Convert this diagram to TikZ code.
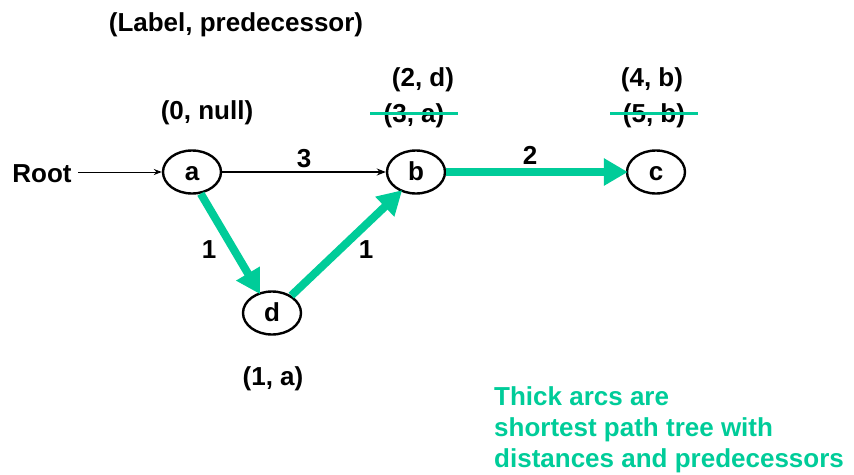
\documentclass[tikz,border=0pt]{standalone}
\usepackage{fontspec}
\setmainfont{Liberation Sans}
\usetikzlibrary{shapes.geometric,arrows.meta}
\definecolor{treegreen}{RGB}{0,204,153}
\begin{document}
\begin{tikzpicture}[x=1pt,y=-1pt,
  font=\fontsize{26}{30}\selectfont\bfseries,
  vertex/.style={ellipse,draw,line width=2.4pt,minimum width=58pt,minimum height=43pt,
    inner sep=0pt,text height=18pt,text depth=1pt},
  plain/.style={line width=1.4pt,-{Stealth[length=9pt,width=7pt]}},
  treearc/.style={treegreen,line width=8pt,-{Triangle[length=24pt,width=26pt]},shorten >=-2pt},
  strike/.style={treegreen,line width=3pt},
  lbl/.style={inner sep=0pt,anchor=center}]
\useasboundingbox (0,0) rectangle (854,474);

\node[lbl] (title) at (236,25) {(Label, predecessor)};

% vertices
\node[vertex] (a) at (192,172) {a};
\node[vertex] (b) at (416,172) {b};
\node[vertex] (c) at (656,172) {c};
\node[vertex] (d) at (272,313) {d};

% root entry
\node[lbl] (root) at (42,174) {Root};
\coordinate (rootend) at (78,172);
\draw[line width=1pt,-{Stealth[length=8pt,width=6pt]}] (rootend) -- (a);

% arcs
\draw[plain] (a) -- (b) node[midway,above=4pt,lbl,anchor=south] (w3) {3};
\draw[treearc] (a.-68) -- (d.122);
\draw[treearc] (d.42) -- (b.-128);
\draw[treearc] (b) -- (c);

% arc weights
\node[lbl] (w1a) at (209,250) {1};
\node[lbl] (w1b) at (366,250) {1};
\node[lbl] (w2) at (530,155) {2};

% vertex labels
\node[lbl] (la) at (207,113) {(0, null)};
\node[lbl] (lb1) at (423,80) {(2, d)};
\node[lbl] (lb2) at (414,116) {(3, a)};
\node[lbl] (lc1) at (652,80) {(4, b)};
\node[lbl] (lc2) at (654,116) {(5, b)};
\node[lbl] (ld) at (273,379) {(1, a)};
\draw[strike] (370,113) -- (458,113);
\draw[strike] (610,113) -- (698,113);

% legend
\node[treegreen,anchor=north west,align=left,inner sep=0pt,
  font=\fontsize{26}{31}\selectfont\bfseries] (note) at (494,386)
  {Thick arcs are\\shortest path tree with\\distances and predecessors};
\end{tikzpicture}
\end{document}
